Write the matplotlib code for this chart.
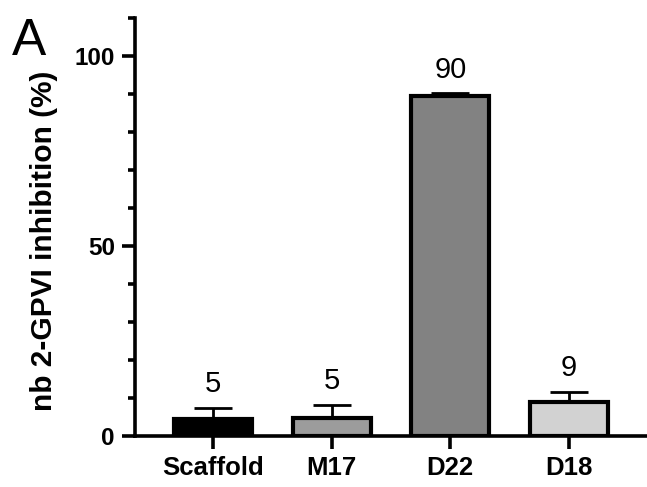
import matplotlib
matplotlib.use('Agg')
import matplotlib.pyplot as plt
from matplotlib.ticker import MultipleLocator

## data
groups = ['Scaffold', 'M17', 'D22', 'D18']
means = [4.5, 4.7, 89.6, 8.9]
errs = [2.9, 3.5, 0.6, 2.7]
labels = ['5', '5', '90', '9']
fills = ['#000000', '#9c9c9c', '#828282', '#d2d2d2']

plt.rcParams['font.family'] = ['Liberation Sans', 'DejaVu Sans']

fig = plt.figure(figsize=(6.47, 4.87), dpi=100)
ax = fig.add_axes([135 / 647, 1 - 436 / 487, 1 - 135 / 647, (436 - 18) / 487])

x = list(range(len(groups)))
ax.bar(x, means, width=0.66, color=fills, edgecolor='black', linewidth=3, zorder=3)
ax.errorbar(x, means, yerr=[[0] * len(errs), errs], fmt='none', ecolor='black',
            elinewidth=2, capsize=13.5, capthick=2, zorder=2)

# value labels above the error bars
for xi, m, e, lab in zip(x, means, errs, labels):
    ax.annotate(lab, (xi, m + e), xytext=(0, 7), textcoords='offset points',
                ha='center', va='bottom', fontsize=21)

ax.set_xlim(-0.66, 3.66)
ax.set_ylim(0, 110)
ax.set_yticks([0, 50, 100])
ax.yaxis.set_minor_locator(MultipleLocator(10))
ax.set_xticks(x)
ax.set_xticklabels(groups, fontsize=18.5, fontweight='bold')
for t in ax.get_yticklabels():
    t.set_fontsize(17.5)
    t.set_fontweight('bold')

for s in ['top', 'right']:
    ax.spines[s].set_visible(False)
for s in ['left', 'bottom']:
    ax.spines[s].set_linewidth(2.6)
    ax.spines[s].set_zorder(4)

ax.tick_params(axis='both', which='major', length=9.5, width=2.6, pad=5)
ax.tick_params(axis='y', which='minor', length=5, width=2.6)

ax.set_ylabel('nb 2-GPVI inhibition (%)', fontsize=21.5, fontweight='bold')
ax.yaxis.set_label_coords(-0.15, 0.466)

fig.text(12 / 647, 1 - 55 / 487, 'A', fontsize=37, ha='left', va='baseline')

fig.savefig('out.png', dpi=100)
